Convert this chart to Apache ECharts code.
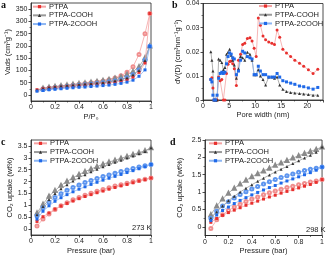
<!DOCTYPE html>
<html><head><meta charset="utf-8">
<script src="https://cdn.jsdelivr.net/npm/echarts@6/dist/echarts.min.js"></script>
<style>html,body{margin:0;padding:0;background:#fff}#c{width:327px;height:256px}</style>
</head><body><div id="c"></div>
<script>
// ---------- Panel a: N2 isotherms ----------
const isoP_ads = [0.05,0.1,0.15,0.2,0.25,0.3,0.35,0.4,0.45,0.5,0.55,0.6,0.65,0.7,0.75,0.8,0.85,0.9,0.95,0.99];
const isoP_des = [0.99,0.95,0.9,0.85,0.8,0.75,0.7,0.65,0.6,0.55,0.5,0.45,0.4,0.35,0.3,0.25,0.2,0.15,0.1];
const isoPTPA_ads = [21,25,28,30,32,34,36,38,40,42,44,46,49,52,56,62,72,92,130,332];
const isoPTPA_des = [332,250,165,115,92,78,69,62,57,53,49,46,43,40,37,34,31,28,25];
const isoCOOH_ads = [20,26,30,33,36,38,40,42,44,46,48,51,54,58,63,70,82,100,140,200];
const isoCOOH_des = [200,152,115,95,83,74,68,63,59,55,52,49,46,43,40,37,34,31,27];
const iso2COOH_ads = [15,18,21,23,25,27,29,31,32,34,36,38,40,43,47,52,60,76,102,198];
const iso2COOH_des = [198,142,102,82,70,62,57,53,49,46,43,41,38,36,33,31,28,25,22];
const isoYTicks = [0,50,100,150,200,250,300,350];
const isoYMinor = [25,75,125,175,225,275,325];

// ---------- Panel b: pore size distribution ----------
const poreW = [1.5,1.7,1.9,2.1,2.4,2.7,3.0,3.3,3.6,3.9,4.2,4.5,4.8,5.1,5.4,5.7,6.0,6.4,6.8,7.2,7.6,8.0,8.5,9.0,9.4,9.8,10.2,10.6,11.0,11.5,12.0,12.6,13.2,13.7,14.2,14.7,15.3,16.0,16.8,17.6,18.5,19.3,20.2,21.1,22.0];
const psdPTPA = [0.0085,0.0092,0.005,0,0,0,0.0095,0.008,0.0085,0,0,0.011,0.0148,0.016,0.0162,0.015,0.013,0.006,0.0165,0.019,0.023,0.0235,0.0255,0.0258,0.0245,0.0215,0.018,0.034,0.031,0.0265,0.025,0.024,0.0235,0.023,0.029,0.026,0.021,0.0195,0.018,0.0165,0.0152,0.014,0.0125,0.011,0.0127];
const psdCOOH = [0.02,0.0165,0.012,0,0,0,0.017,0.0165,0.0155,0.0125,0.0135,0.019,0.0198,0.021,0.0185,0.0165,0.0145,0.009,0.013,0.018,0.0175,0.0165,0.0198,0.019,0.0165,0.0105,0.0105,0.0125,0.01,0.0085,0.0062,0.0095,0.0095,0.009,0.0095,0.0062,0.0045,0.0035,0.0031,0.0029,0.0027,0.0025,0.0023,0.002,0.002];
const psd2COOH = [0.0085,0.0075,0.002,0,0,0.002,0.009,0.011,0.0115,0.011,0.0115,0.015,0.018,0.0195,0.019,0.0175,0.017,0.0105,0.012,0.0165,0.0202,0.0195,0.018,0.0175,0.017,0.0105,0.0105,0.014,0.012,0.0105,0.0105,0.0095,0.0095,0.0095,0.011,0.0095,0.008,0.0075,0.007,0.0065,0.0058,0.0055,0.005,0.0045,0.0052];
const psdYTicks = [0,0.01,0.02,0.03,0.04];
const psdYMinor = [0.005,0.015,0.025,0.035];

// ---------- Panels c, d: CO2 uptake ----------
const pres = [0.05,0.1,0.15,0.2,0.25,0.3,0.35,0.4,0.45,0.5,0.55,0.6,0.65,0.7,0.75,0.8,0.85,0.9,0.95,1.0];
const c273PTPA_ads = [0.32,0.52,0.68,0.84,0.97,1.08,1.18,1.28,1.37,1.45,1.53,1.6,1.68,1.75,1.82,1.88,1.95,2.02,2.08,2.15];
const c273PTPA_des = [0.13,0.42,0.63,0.82,0.98,1.11,1.23,1.33,1.42,1.51,1.59,1.67,1.74,1.81,1.87,1.93,1.99,2.05,2.1,2.15];
const c273COOH_ads = [0.6,0.95,1.25,1.5,1.7,1.87,2.02,2.16,2.29,2.41,2.52,2.62,2.72,2.81,2.9,2.99,3.08,3.17,3.27,3.42];
const c273COOH_des = [0.68,1.05,1.38,1.62,1.84,2.01,2.16,2.3,2.42,2.53,2.63,2.73,2.82,2.9,2.98,3.06,3.14,3.22,3.3,3.42];
const c2732COOH_ads = [0.42,0.75,0.98,1.17,1.32,1.45,1.57,1.68,1.78,1.88,1.97,2.06,2.14,2.22,2.3,2.38,2.46,2.54,2.62,2.72];
const c2732COOH_des = [0.55,0.9,1.13,1.33,1.49,1.63,1.75,1.86,1.96,2.05,2.13,2.21,2.28,2.35,2.42,2.49,2.55,2.61,2.67,2.72];
const c273YTicks = [0,0.5,1,1.5,2,2.5,3,3.5];
const c273YMinor = [0.25,0.75,1.25,1.75,2.25,2.75,3.25];

const c298PTPA_ads = [0.13,0.24,0.33,0.41,0.48,0.55,0.62,0.68,0.74,0.8,0.86,0.91,0.97,1.02,1.07,1.12,1.17,1.22,1.28,1.36];
const c298PTPA_des = [-0.05,0.2,0.35,0.47,0.57,0.65,0.73,0.8,0.86,0.92,0.98,1.03,1.08,1.13,1.17,1.21,1.25,1.29,1.32,1.36];
const c298COOH_ads = [0.25,0.43,0.6,0.75,0.88,1.0,1.11,1.21,1.31,1.4,1.49,1.58,1.66,1.74,1.82,1.9,1.98,2.06,2.15,2.3];
const c298COOH_des = [0.35,0.6,0.8,0.97,1.11,1.23,1.34,1.44,1.53,1.61,1.69,1.77,1.84,1.91,1.98,2.05,2.11,2.17,2.23,2.3];
const c2982COOH_ads = [0.18,0.34,0.47,0.57,0.67,0.76,0.84,0.92,0.99,1.06,1.13,1.19,1.26,1.32,1.38,1.44,1.5,1.56,1.63,1.72];
const c2982COOH_des = [0.25,0.45,0.6,0.72,0.83,0.93,1.01,1.09,1.16,1.23,1.3,1.36,1.42,1.47,1.52,1.57,1.62,1.66,1.69,1.72];
const c298YTicks = [0,0.5,1,1.5,2,2.5];
const c298YMinor = [0.25,0.75,1.25,1.75,2.25];

const names = ['PTPA','PTPA-COOH','PTPA-2COOH'];

// ---------- styling ----------
const F = 'Liberation Sans';
const AX = '#222';
const STY = {
  'PTPA':       {m:'#e8302e', l:'#f4a3a3', o:'#f08e8e', sym:'rect', osym:'emptyCircle'},
  'PTPA-COOH':  {m:'#333333', l:'#9a9a9a', o:'#8a8a8a', sym:'triangle', osym:'emptyTriangle'},
  'PTPA-2COOH': {m:'#1f69e8', l:'#8db6f3', o:'#5d95ef', sym:'rect', osym:'emptyCircle'}
};

function pairs(xs, ys){ return xs.map((x,i)=>[x, ys[i]]); }
function sAds(name, k, xs, ys, sym){
  const s = STY[name];
  return {name, type:'line', xAxisIndex:k, yAxisIndex:2*k, data:pairs(xs,ys),
    symbol: sym || s.sym, symbolSize:3, showSymbol:true, animation:false, z:3,
    lineStyle:{color:s.l, width:0.8}, itemStyle:{color:s.m}};
}
function sDes(name, k, xs, ys){
  const s = STY[name];
  return {name: name+' des '+k, type:'line', xAxisIndex:k, yAxisIndex:2*k, data:pairs(xs,ys),
    symbol: s.osym, symbolSize:3, showSymbol:true, animation:false, z:2,
    lineStyle:{color:s.l, width:0.8}, itemStyle:{color:s.o, borderWidth:0.6}};
}

const grids = [
  {left:31, top:3, width:120, height:98},
  {left:203, top:3, width:120, height:97},
  {left:31, top:140, width:120, height:95},
  {left:205, top:140, width:120, height:96}
].map(g => Object.assign(g, {show:true, borderColor:AX, borderWidth:0.8, backgroundColor:'transparent'}));

const lbl = {fontFamily:F, fontSize:7, color:AX};
const nameSty = {fontFamily:F, fontSize:7.5, color:AX};

function xAx(k, min, max, interval, name, gap, fmt){
  return {type:'value', gridIndex:k, min, max, interval, name, nameLocation:'middle', nameGap:gap,
    nameTextStyle:nameSty,
    axisLine:{show:true, onZero:false, lineStyle:{color:AX, width:0.8}},
    axisTick:{show:true, inside:false, length:2.5, lineStyle:{color:AX, width:0.8}},
    minorTick:{show:true, splitNumber:2, length:1.5, lineStyle:{color:AX, width:0.6}},
    axisLabel:Object.assign({margin:3, formatter: fmt || undefined}, lbl),
    splitLine:{show:false}, minorSplitLine:{show:false}};
}
function yAxs(k, min, max, ticks, minor, name, gap){
  return [
    {type:'value', gridIndex:k, min, max, name, nameLocation:'middle', nameGap:gap, nameRotate:90,
      nameTextStyle:nameSty,
      axisLine:{show:true, onZero:false, lineStyle:{color:AX, width:0.8}},
      axisTick:{show:true, inside:false, length:2.5, customValues:ticks, lineStyle:{color:AX, width:0.8}},
      axisLabel:Object.assign({margin:3.5, customValues:ticks}, lbl),
      splitLine:{show:false}},
    {type:'value', gridIndex:k, min, max, position:'left',
      axisLine:{show:false},
      axisTick:{show:true, inside:false, length:1.5, customValues:minor, lineStyle:{color:AX, width:0.6}},
      axisLabel:{show:false}, splitLine:{show:false}}
  ];
}

const xAxis = [
  xAx(0, 0, 1, 0.2, 'P/P\u2080', 11.5),
  xAx(1, 0, 23, 5, 'Pore width (nm)', 11, v => (v % 5 === 0 ? String(v) : '')),
  xAx(2, 0, 1, 0.2, 'Pressure (bar)', 12),
  xAx(3, 0, 1, 0.2, 'Pressure (bar)', 11.5)
];
const yAxis = [].concat(
  yAxs(0, -25, 375, isoYTicks, isoYMinor, 'Vads (cm\u00b3g\u207b\u00b9)', 13.5),
  yAxs(1, 0, 0.04, psdYTicks, psdYMinor, 'dV(D) (cm\u00b3nm\u207b\u00b9g\u207b\u00b9)', 10),
  yAxs(2, -0.25, 3.75, c273YTicks, c273YMinor, 'CO\u2082 uptake (wt%)', 13.5),
  yAxs(3, -0.25, 2.5, c298YTicks, c298YMinor, 'CO\u2082 uptake (wt%)', 21.5)
);

const series = [
  sDes('PTPA',0,isoP_des,isoPTPA_des), sDes('PTPA-COOH',0,isoP_des,isoCOOH_des), sDes('PTPA-2COOH',0,isoP_des,iso2COOH_des),
  sAds('PTPA',0,isoP_ads,isoPTPA_ads), sAds('PTPA-COOH',0,isoP_ads,isoCOOH_ads), sAds('PTPA-2COOH',0,isoP_ads,iso2COOH_ads),
  sAds('PTPA',1,poreW,psdPTPA,'circle'), sAds('PTPA-COOH',1,poreW,psdCOOH), sAds('PTPA-2COOH',1,poreW,psd2COOH),
  sDes('PTPA',2,pres,c273PTPA_des), sDes('PTPA-COOH',2,pres,c273COOH_des), sDes('PTPA-2COOH',2,pres,c2732COOH_des),
  sAds('PTPA',2,pres,c273PTPA_ads), sAds('PTPA-COOH',2,pres,c273COOH_ads), sAds('PTPA-2COOH',2,pres,c2732COOH_ads),
  sDes('PTPA',3,pres,c298PTPA_des), sDes('PTPA-COOH',3,pres,c298COOH_des), sDes('PTPA-2COOH',3,pres,c2982COOH_des),
  sAds('PTPA',3,pres,c298PTPA_ads), sAds('PTPA-COOH',3,pres,c298COOH_ads), sAds('PTPA-2COOH',3,pres,c2982COOH_ads)
];

function leg(left, top){
  return {data:names, orient:'vertical', left, top, itemWidth:13, itemHeight:4, itemGap:0,
    padding:0, selectedMode:false,
    textStyle:{fontFamily:F, fontSize:7.5, color:AX, lineHeight:8.7, padding:[0,0,0,-2]}};
}

const letter = (t, x, y) => ({type:'text', left:x, top:y, style:{text:t, font:'bold 10px "Liberation Serif"', fill:'#111'}});
const note = (t, x, y) => ({type:'text', left:x, top:y, style:{text:t, font:'7.5px "Liberation Sans"', fill:AX}});

const chart = echarts.init(document.getElementById('c'), null, {renderer:'canvas'});
chart.setOption({
  animation:false,
  backgroundColor:'#fff',
  grid:grids, xAxis, yAxis, series,
  legend:[leg(32,2.3), leg(258,1.7), leg(33,139), leg(208,139)],
  graphic:[
    letter('a',1,0), letter('b',172,0), letter('c',1,137), letter('d',170,137),
    note('273 K',132,224), note('298 K',306,226)
  ]
});
</script></body></html>
